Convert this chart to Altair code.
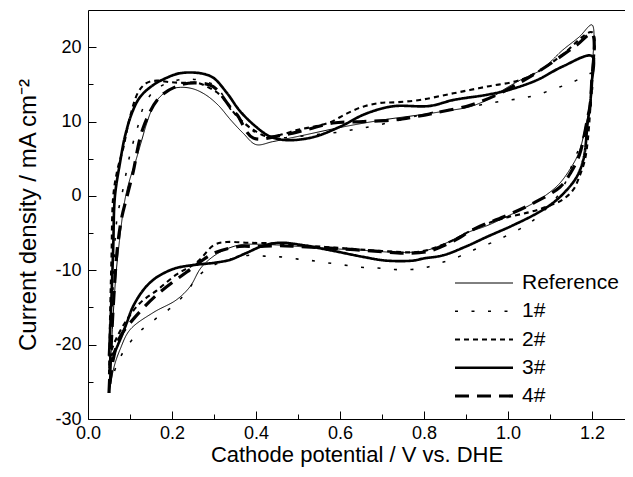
import altair as alt
import pandas as pd

series_names = ["Reference", "1#", "2#", "3#", "4#"]

# Reference (anodic sweep then cathodic sweep)
ref_x = [0.05, 0.058, 0.066, 0.075, 0.088, 0.1, 0.112, 0.128, 0.14, 0.155, 0.171, 0.195, 0.22, 0.25, 0.28, 0.31, 0.34, 0.37, 0.40, 0.44, 0.5, 0.6, 0.7, 0.79, 0.85, 0.91, 0.96, 0.99, 1.03, 1.08, 1.13, 1.17, 1.2,
         1.199, 1.195, 1.185, 1.17, 1.15, 1.12, 1.08, 1.05, 1.0, 0.95, 0.9, 0.85, 0.8, 0.74, 0.65, 0.55, 0.45, 0.4, 0.36, 0.31, 0.27, 0.243, 0.21, 0.155, 0.1, 0.076, 0.062, 0.05]
ref_y = [-26.5, -18, -11, -6, -0.5, 2.3, 4.4, 7.5, 9.8, 12, 13.3, 14.3, 14.6, 14.4, 13.6, 12.2, 10.2, 8.4, 6.9, 7.3, 8.0, 9.2, 10.2, 10.9, 11.4, 12.0, 13.2, 14.3, 15.6, 17.0, 19.6, 21.4, 23.0,
         16, 12, 9.5, 6.0, 3.8, 1.5, -0.3, -1.3, -2.7, -4.0, -5.0, -6.4, -7.4, -7.6, -7.3, -7.0, -6.6, -6.5, -6.6, -7.7, -9.6, -12.2, -14.0, -15.7, -18, -20.7, -23, -26.5]

s1_x = [0.05, 0.06, 0.067, 0.074, 0.083, 0.098, 0.108, 0.12, 0.131, 0.155, 0.19, 0.233, 0.27, 0.306, 0.34, 0.37, 0.41, 0.45, 0.5, 0.55, 0.6, 0.64, 0.68, 0.75, 0.8, 0.87, 0.91, 0.95, 0.99, 1.03, 1.07, 1.11, 1.15, 1.19, 1.2,
        1.199, 1.195, 1.19, 1.17, 1.155, 1.14, 1.117, 1.08, 1.045, 1.005, 0.965, 0.925, 0.886, 0.846, 0.806, 0.77, 0.73, 0.69, 0.65, 0.61, 0.57, 0.533, 0.5, 0.457, 0.42, 0.38, 0.34, 0.3, 0.26, 0.238, 0.203, 0.164, 0.124, 0.092, 0.07, 0.05]
s1_y = [-26, -12, -4, -1.5, 0.8, 5.1, 7.3, 9.6, 11.8, 14, 15.2, 15.7, 15.5, 14.7, 11.6, 9.8, 8.2, 7.8, 8.0, 8.3, 8.6, 9.0, 9.4, 10.3, 11.0, 11.7, 12.0, 12.4, 12.8, 13.1, 13.6, 14.4, 15.2, 16.3, 16.5,
        13, 11, 9.8, 6.5, 4.6, 2.2, -0.1, -2.3, -3.9, -5.1, -6.2, -7.1, -8.1, -8.9, -9.6, -9.9, -9.9, -9.7, -9.6, -9.3, -9.0, -8.7, -8.5, -8.2, -8.1, -8.0, -8.5, -9.3, -10.9, -12.7, -14.8, -16.4, -18.2, -20.3, -22.5, -26]

s2_x = [0.05, 0.053, 0.056, 0.06, 0.07, 0.083, 0.1, 0.12, 0.14, 0.164, 0.195, 0.226, 0.26, 0.29, 0.314, 0.355, 0.393, 0.426, 0.457, 0.5, 0.536, 0.576, 0.617, 0.655, 0.695, 0.735, 0.79, 0.87, 0.95, 1.03, 1.08, 1.13, 1.2,
        1.199, 1.195, 1.19, 1.183, 1.17, 1.155, 1.13, 1.09, 1.05, 0.99, 0.925, 0.86, 0.79, 0.7, 0.6, 0.5, 0.45, 0.38, 0.33, 0.3, 0.26, 0.21, 0.164, 0.124, 0.092, 0.069, 0.055, 0.05]
s2_y = [-24, -15, -8, -0.1, 3.5, 6.2, 10.6, 14, 15.2, 15.5, 15.3, 15.2, 15.2, 14.5, 13.6, 10.7, 8.9, 8.0, 8.2, 8.9, 9.3, 9.9, 11.1, 12, 12.5, 12.6, 12.9, 13.8, 14.7, 15.6, 17.0, 19.0, 22,
        15, 11, 7.5, 4.8, 2.6, 0.8, -0.5, -1.5, -2.2, -3.0, -4.3, -6.2, -7.5, -7.4, -7.0, -6.6, -6.4, -6.3, -6.2, -6.6, -8.9, -10.6, -12.7, -14.4, -16.7, -19, -21, -24]

s3_x = [0.05, 0.055, 0.06, 0.064, 0.076, 0.088, 0.105, 0.124, 0.155, 0.188, 0.219, 0.267, 0.298, 0.33, 0.362, 0.40, 0.433, 0.473, 0.536, 0.6, 0.655, 0.703, 0.735, 0.814, 0.87, 0.95, 1.005, 1.07, 1.13, 1.2,
        1.199, 1.195, 1.19, 1.18, 1.164, 1.14, 1.108, 1.07, 1.01, 0.95, 0.9, 0.845, 0.8, 0.774, 0.71, 0.655, 0.576, 0.497, 0.457, 0.417, 0.38, 0.36, 0.338, 0.3, 0.25, 0.21, 0.18, 0.155, 0.131, 0.107, 0.092, 0.076, 0.06, 0.05]
s3_y = [-21.5, -15, -7, -0.1, 4.4, 8, 11.2, 13.3, 14.9, 15.9, 16.5, 16.5, 15.9, 13.9, 11.4, 9.3, 8.0, 7.5, 7.9, 9.3, 10.9, 11.8, 12.1, 12.1, 12.9, 13.6, 14.3, 15.6, 17.4, 18.8,
        15, 12, 10, 5, 2.6, 0.8, -0.9, -2.3, -4.0, -5.5, -6.8, -8.0, -8.4, -8.7, -8.7, -8.2, -7.3, -6.5, -6.3, -6.7, -7.6, -8.1, -8.6, -9.0, -9.3, -9.7, -10.4, -11.3, -12.7, -14.9, -17.1, -19.4, -21.2, -21.5]

s4_x = [0.05, 0.06, 0.07, 0.08, 0.095, 0.107, 0.131, 0.171, 0.219, 0.26, 0.298, 0.338, 0.355, 0.393, 0.457, 0.52, 0.583, 0.655, 0.726, 0.774, 0.83, 0.91, 0.97, 1.03, 1.08, 1.164, 1.2,
        1.199, 1.195, 1.19, 1.17, 1.15, 1.124, 1.052, 0.99, 0.925, 0.862, 0.807, 0.75, 0.7, 0.6, 0.5, 0.45, 0.4, 0.36, 0.3, 0.236, 0.164, 0.112, 0.076, 0.06, 0.05]
s4_y = [-26.5, -15, -7, -3, 0.4, 3.1, 9.1, 13.3, 14.9, 15.2, 14.7, 12, 10.9, 7.8, 8.1, 8.9, 9.8, 10.0, 10.2, 10.6, 11.2, 12.2, 13.5, 15.3, 17, 20.3, 21.8,
        15, 12, 10.6, 5.5, 3.2, 1.2, -1.2, -2.8, -4.3, -6.3, -7.5, -7.7, -7.5, -7.1, -6.8, -6.7, -6.8, -6.8, -7.7, -10.2, -13.3, -16.3, -19, -22, -26.5]

x_major = [0.0, 0.2, 0.4, 0.6, 0.8, 1.0, 1.2]
x_minor = [0.1, 0.3, 0.5, 0.7, 0.9, 1.1]
y_major = [-30, -20, -10, 0, 10, 20]
y_minor = [-25, -15, -5, 5, 15]

dash_range = [[1, 0], [3, 13.5], [5, 4], [1, 0], [14, 8]]
width_range = [1.0, 3.2, 1.0, 2.6, 3.0]

rows = []
for name, xs, ys in zip(series_names, [ref_x, s1_x, s2_x, s3_x, s4_x], [ref_y, s1_y, s2_y, s3_y, s4_y]):
    for i, (xv, yv) in enumerate(zip(xs, ys)):
        rows.append({"series": name, "i": i, "x": xv, "y": yv})
df = pd.DataFrame(rows)
legend_df = pd.DataFrame({"series": series_names})

FONT = "Liberation Sans"
xscale = alt.Scale(domain=[0, 1.2786], nice=False, zero=False)
yscale = alt.Scale(domain=[-30, 25], nice=False, zero=False)
dash_scale = alt.Scale(domain=series_names, range=dash_range)
width_scale = alt.Scale(domain=series_names, range=width_range)
leg_y = alt.Scale(type="point", domain=series_names, range=[273, 386], padding=0)
ylabel = "datum.value < 0 ? '-' + format(-datum.value, 'd') : format(datum.value, 'd')"

lines = alt.Chart(df).mark_line(interpolate="catmull-rom", color="black").encode(
    x=alt.X("x:Q", scale=xscale, axis=alt.Axis(values=x_major, format=".1f", orient="bottom", domain=False,
            tickSize=8, offset=-8, labelPadding=5, labelFontSize=18, labelFont=FONT, grid=False, labelFlush=False,
            title="Cathode potential / V vs. DHE", titleFontSize=22, titleFont=FONT,
            titleFontWeight="normal", titlePadding=2)),
    y=alt.Y("y:Q", scale=yscale, axis=alt.Axis(values=y_major, labelExpr=ylabel, orient="left", domain=False,
            tickSize=8, offset=-8, labelPadding=7, labelFontSize=18, labelFont=FONT, grid=False, labelFlush=False,
            title="Current density / mA cm\u207b\u00b2", titleFontSize=24, titleFont=FONT,
            titleFontWeight="normal", titlePadding=14)),
    strokeDash=alt.StrokeDash("series:N", scale=dash_scale, legend=None),
    strokeWidth=alt.StrokeWidth("series:N", scale=width_scale, legend=None),
    detail="series:N",
    order="i:Q",
)

minor = alt.Chart(df).mark_point(opacity=0).encode(
    x=alt.X("x:Q", scale=xscale, axis=alt.Axis(values=x_minor, orient="bottom", labels=False, domain=False,
            tickSize=5, offset=-5, grid=False, title=None)),
    y=alt.Y("y:Q", scale=yscale, axis=alt.Axis(values=y_minor, orient="left", labels=False, domain=False,
            tickSize=5, offset=-5, grid=False, title=None)),
)

frame = alt.Chart(df).mark_point(opacity=0).encode(
    x=alt.X("x:Q", scale=xscale, axis=alt.Axis(orient="bottom", labels=False, ticks=False, domain=True,
            grid=False, title=None)),
    y=alt.Y("y:Q", scale=yscale, axis=alt.Axis(orient="left", labels=False, ticks=False, domain=True,
            grid=False, title=None)),
)

frame_top = alt.Chart(df).mark_point(opacity=0).encode(
    x=alt.X("x:Q", scale=xscale, axis=alt.Axis(orient="top", labels=False, ticks=False, domain=True,
            grid=False, title=None)),
    y=alt.Y("y:Q", scale=yscale, axis=None),
)

leg_rule = alt.Chart(legend_df).mark_rule(color="black").encode(
    x=alt.value(367), x2=alt.value(425),
    y=alt.Y("series:N", scale=leg_y, axis=None),
    strokeDash=alt.StrokeDash("series:N", scale=dash_scale, legend=None),
    strokeWidth=alt.StrokeWidth("series:N", scale=width_scale, legend=None),
)

leg_text = alt.Chart(legend_df).mark_text(align="left", baseline="middle", fontSize=21, font=FONT,
                                          color="black").encode(
    x=alt.value(434),
    y=alt.Y("series:N", scale=leg_y, axis=None),
    text="series:N",
)

chart = alt.layer(lines, minor, frame, frame_top, leg_rule, leg_text).resolve_scale(
    y="independent"
).resolve_axis(x="independent", y="independent").properties(
    width=537, height=409,
    padding={"left": 80, "top": 2, "right": 0, "bottom": 50},
    autosize=alt.AutoSizeParams(type="none"),
).configure_view(stroke=None).configure_axis(
    tickColor="black", labelColor="black", titleColor="black", tickWidth=1,
    domainColor="black", domainWidth=1
)

chart.save("out.html", embed_options={"renderer": "svg", "actions": False})
